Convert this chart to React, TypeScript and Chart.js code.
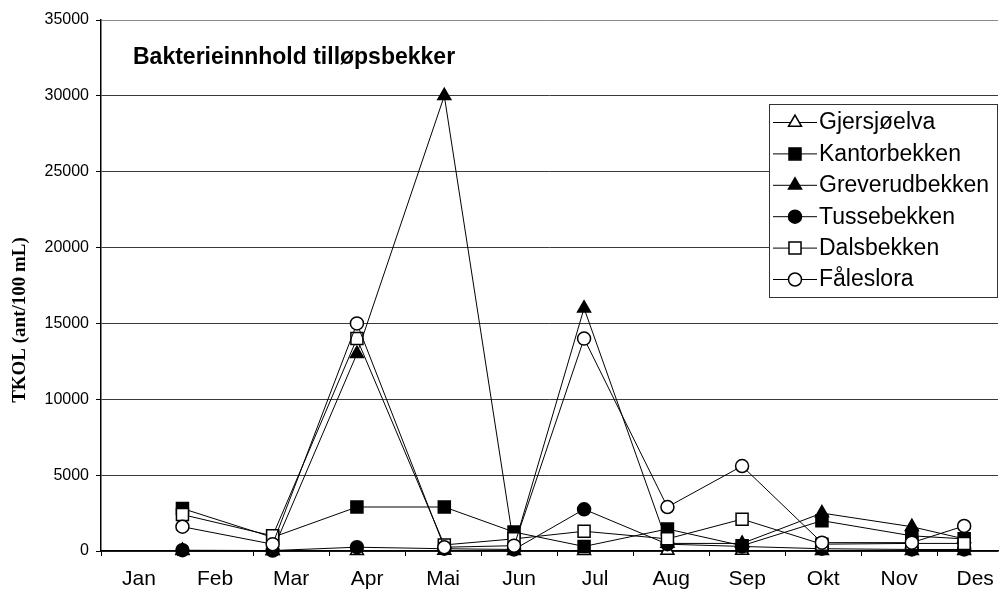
import React, { useEffect, useRef } from "react";
import { Chart, registerables } from "chart.js";
import { drawPoint } from "chart.js/helpers";

Chart.register(...registerables);

const monthLabels = ["Jan", "Feb", "Mar", "Apr", "Mai", "Jun", "Jul", "Aug", "Sep", "Okt", "Nov", "Des"];
const daysInMonth = [31, 28, 31, 30, 31, 30, 31, 31, 30, 31, 30, 31];

// sampling dates (month number, day of month)
const sampleMonths = [2, 3, 4, 5, 6, 7, 8, 9, 10, 11, 12];
const sampleDays = [3, 9, 12, 17, 14, 12, 15, 14, 16, 21, 12];

const gjersjoelva = [10, 10, 20, 30, 20, 20, 30, 30, 20, 10, 10];
const kantorbekken = [2800, 900, 2900, 2900, 1250, 300, 1450, 350, 2000, 1000, 800];
const greverudbekken = [30, 20, 13000, 30000, 300, 16000, 500, 500, 2500, 1600, 800];
const tussebekken = [50, 30, 250, 150, 100, 2750, 450, 300, 150, 100, 100];
const dalsbekken = [2400, 1000, 14000, 400, 800, 1300, 800, 2100, 450, 500, 500];
const faleslora = [1600, 450, 15000, 250, 350, 14000, 2900, 5600, 550, 550, 1650];

const seriesNames = ["Gjersjøelva", "Kantorbekken", "Greverudbekken", "Tussebekken", "Dalsbekken", "Fåleslora"];
const seriesValues = [gjersjoelva, kantorbekken, greverudbekken, tussebekken, dalsbekken, faleslora];
const seriesMarkers = ["triangle", "rect", "triangle", "circle", "rect", "circle"];
const seriesFilled = [false, true, true, true, false, false];

const chartTitle = "Bakterieinnhold tilløpsbekker";
const yAxisTitle = "TKOL (ant/100 mL)";

const FONT = "'Liberation Sans', Arial, sans-serif";

function markerRadius(style: string) {
  if (style === "rect") return 8.5;
  if (style === "triangle") return 7.5;
  return 6.5;
}

const xPositions = sampleMonths.map((m, i) => m - 1 + (sampleDays[i] - 1) / daysInMonth[m - 1]);

const overlayPlugin = {
  id: "overlay",
  afterDraw(chart: any) {
    const ctx = chart.ctx as CanvasRenderingContext2D;
    ctx.save();
    // title
    ctx.fillStyle = "#000";
    ctx.font = `bold 23px ${FONT}`;
    ctx.textBaseline = "middle";
    ctx.textAlign = "left";
    ctx.fillText(chartTitle, 133, 58);

    // y axis title
    ctx.save();
    ctx.translate(20, 320);
    ctx.rotate(-Math.PI / 2);
    ctx.font = "bold 19px 'Liberation Serif', 'Times New Roman', serif";
    ctx.textAlign = "center";
    ctx.textBaseline = "middle";
    ctx.fillText(yAxisTitle, 0, 0);
    ctx.restore();

    // legend
    const lx = 769.5, ly = 104.5, lw = 228, lh = 193;
    ctx.fillStyle = "#fff";
    ctx.fillRect(lx, ly, lw, lh);
    ctx.strokeStyle = "#333";
    ctx.lineWidth = 1;
    ctx.strokeRect(lx, ly, lw, lh);
    chart.data.datasets.forEach((ds: any, i: number) => {
      const y = 122 + i * 31.4;
      ctx.strokeStyle = "#000";
      ctx.lineWidth = 1;
      ctx.beginPath();
      ctx.moveTo(773, y + 0.5);
      ctx.lineTo(817, y + 0.5);
      ctx.stroke();
      ctx.fillStyle = ds.pointBackgroundColor;
      ctx.strokeStyle = "#000";
      ctx.lineWidth = 1.5;
      drawPoint(ctx, { pointStyle: ds.pointStyle, radius: ds.pointRadius, rotation: 0, borderWidth: 1.5 } as any, 795, y + 0.5);
      ctx.fillStyle = "#000";
      ctx.font = `23px ${FONT}`;
      ctx.textAlign = "left";
      ctx.textBaseline = "middle";
      ctx.fillText(ds.label, 819, y + 1);
    });
    ctx.restore();
  },
};

export default function App() {
  const canvasRef = useRef<HTMLCanvasElement | null>(null);

  useEffect(() => {
    const canvas = canvasRef.current;
    if (!canvas) return;
    Chart.defaults.font.family = FONT;
    Chart.defaults.color = "#000";

    const datasets = seriesNames.map((name, i) => ({
      label: name,
      data: xPositions.map((x, j) => ({ x, y: seriesValues[i][j] })),
      borderColor: "#000",
      borderWidth: 1,
      backgroundColor: seriesFilled[i] ? "#000" : "#fff",
      pointStyle: seriesMarkers[i],
      pointRadius: markerRadius(seriesMarkers[i]),
      pointBackgroundColor: seriesFilled[i] ? "#000" : "#fff",
      pointBorderColor: "#000",
      pointBorderWidth: 1.5,
      tension: 0,
      fill: false,
      clip: false as any,
      order: seriesNames.length - i,
    }));

    const chart = new Chart(canvas, {
      type: "line",
      data: { datasets },
      options: {
        animation: false,
        responsive: false,
        devicePixelRatio: 1,
        layout: { autoPadding: false, padding: { left: 0, top: 20, right: 1, bottom: 0 } },
        plugins: { legend: { display: false }, tooltip: { enabled: false }, title: { display: false } },
        scales: {
          x: {
            type: "linear",
            min: 0,
            max: 11.8,
            afterFit: (scale: any) => {
              scale.height = 40;
              scale.paddingLeft = 0;
              scale.paddingRight = 0;
            },
            afterBuildTicks: (scale: any) => {
              const t: any[] = [];
              for (let i = 0; i < 24; i++) t.push({ value: i / 2 });
              scale.ticks = t;
            },
            ticks: {
              autoSkip: false,
              maxRotation: 0,
              padding: 11,
              font: { size: 21, family: FONT },
              color: "#000",
              callback: (v: any) => {
                const n = Number(v);
                if (Math.abs(n - Math.floor(n) - 0.5) < 1e-6) return monthLabels[Math.floor(n)];
                return "";
              },
            },
            grid: {
              drawOnChartArea: false,
              drawTicks: true,
              tickLength: 5,
              tickColor: (c: any) => (c.tick && Number.isInteger(c.tick.value) ? "#000" : "rgba(0,0,0,0)"),
            },
            border: { color: "#000", width: 1.5 },
          },
          y: {
            type: "linear",
            min: 0,
            max: 35000,
            afterFit: (scale: any) => {
              scale.width = 101;
            },
            ticks: {
              stepSize: 5000,
              padding: 7,
              font: { size: 16, family: FONT },
              color: "#000",
              callback: (v: any) => String(v),
            },
            grid: {
              drawOnChartArea: true,
              drawTicks: true,
              tickLength: 5,
              color: (c: any) => (c.tick && c.tick.value === 35000 ? "#8a8a8a" : "#3a3a3a"),
              tickColor: "#000",
              lineWidth: 1,
            },
            border: { color: "#000", width: 1.5 },
          },
        },
      },
      plugins: [overlayPlugin],
    });

    return () => chart.destroy();
  }, []);

  return (
    <div style={{ position: "fixed", left: 0, top: 0, width: 999, height: 591, background: "#fff" }}>
      <canvas ref={canvasRef} width={999} height={591} style={{ display: "block", width: 999, height: 591 }} />
    </div>
  );
}
